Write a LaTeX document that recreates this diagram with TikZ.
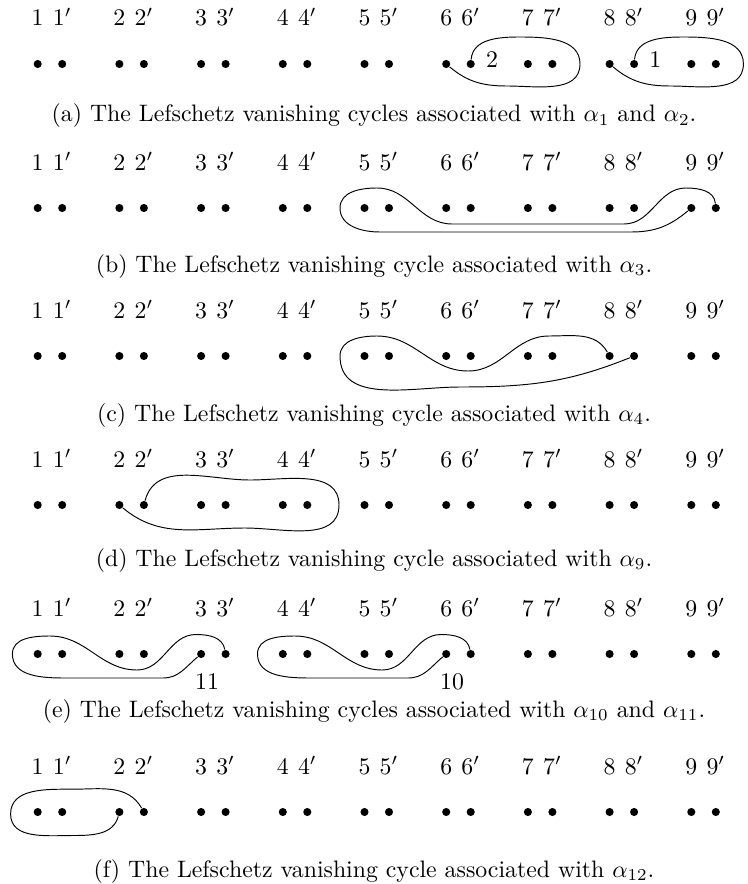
\documentclass[tikz,border=0pt]{standalone}

\tikzset{
  spot/.style={circle, fill, inner sep=0pt, minimum size=3.4pt},
  lbl/.style={anchor=base},
  captxt/.style={anchor=base},
  cyc/.style={line width=0.4pt}
}

% one row of points 1,1',...,9,9' with their labels
\newcommand{\pointrow}[1]{%
  \foreach \i in {1,...,9} {
    \node[spot] (#1\i) at ({37.7+81.7*(\i-1)}, 0) {};
    \node[spot] (#1\i p) at ({62.2+81.7*(\i-1)}, 0) {};
    \node[lbl] (#1l\i) at ({37.7+81.7*(\i-1)}, -38) {$\i$};
    \node[lbl] (#1l\i p) at ({62.2+81.7*(\i-1)}, -38) {$\i'$};
  }%
}

\begin{document}
\begin{tikzpicture}[x=0.42pt, y=-0.42pt]
  \useasboundingbox (0,0) rectangle (748,884);

  % (a) alpha_1 and alpha_2
  \begin{scope}[shift={(0,64)}]
    \pointrow{a}
    \draw[cyc] (a6p) to[out=85,in=180] (520,-27) to[out=0,in=90] (580,0)
      to[out=-90,in=0] (507,22) to[out=180,in=-40] (a6);
    \node (a2lab) at (492,-4) {$2$};
    \begin{scope}[shift={(163.4,0)}]
      \draw[cyc] (a8p) to[out=85,in=180] (520,-27) to[out=0,in=90] (580,0)
        to[out=-90,in=0] (507,22) to[out=180,in=-40] (a8);
      \node (a1lab) at (492,-4) {$1$};
    \end{scope}
    \node[captxt] (capa) at (374,58)
      {(a) The Lefschetz vanishing cycles associated with $\alpha_1$ and $\alpha_2$.};
  \end{scope}

  % (b) alpha_3
  \begin{scope}[shift={(0,208)}]
    \pointrow{b}
    \draw[cyc] (b9p) to[out=95,in=0] (686,-20) to[out=180,in=0] (624,16)
      -- (452,16) to[out=180,in=0] (377,-20) to[out=180,in=90] (340,0)
      to[out=-90,in=180] (380,24) -- (631,24) to[out=0,in=-140] (b9);
    \node[captxt] (capb) at (374,64)
      {(b) The Lefschetz vanishing cycle associated with $\alpha_3$.};
  \end{scope}

  % (c) alpha_4
  \begin{scope}[shift={(0,356)}]
    \pointrow{c}
    \draw[cyc] (c8) to[out=120,in=0] (549,-20) to[out=180,in=0] (468,15)
      to[out=180,in=0] (377,-20) to[out=180,in=90] (340,0)
      to[out=-90,in=180] (460,31) to[out=0,in=-158] (c8p);
    \node[captxt] (capc) at (374,65)
      {(c) The Lefschetz vanishing cycle associated with $\alpha_4$.};
  \end{scope}

  % (d) alpha_9
  \begin{scope}[shift={(0,505)}]
    \pointrow{d}
    \draw[cyc] (d2p) to[out=75,in=180] (250,-25) to[out=0,in=90] (339,0)
      to[out=-90,in=0] (245,23) to[out=180,in=-40] (d2);
    \node[captxt] (capd) at (374,61)
      {(d) The Lefschetz vanishing cycle associated with $\alpha_9$.};
  \end{scope}

  % (e) alpha_10 and alpha_11
  \begin{scope}[shift={(0,654)}]
    \pointrow{e}
    \draw[cyc] (e3p) to[out=100,in=0] (196,-19.5) to[out=180,in=0] (137,16)
      to[out=180,in=0] (50,-18) to[out=180,in=90] (12.4,0)
      to[out=-90,in=180] (66,24) -- (163,24) to[out=0,in=-140] (e3);
    \node (e11lab) at (207,28) {11};
    \begin{scope}[shift={(245.1,0)}]
      \draw[cyc] (e6p) to[out=100,in=0] (196,-19.5) to[out=180,in=0] (137,16)
        to[out=180,in=0] (50,-18) to[out=180,in=90] (12.4,0)
        to[out=-90,in=180] (66,24) -- (163,24) to[out=0,in=-140] (e6);
      \node (e10lab) at (207,28) {10};
    \end{scope}
    \node[captxt] (cape) at (374,63)
      {(e) The Lefschetz vanishing cycles associated with $\alpha_{10}$ and $\alpha_{11}$.};
  \end{scope}

  % (f) alpha_12
  \begin{scope}[shift={(0,812)}]
    \pointrow{f}
    \draw[cyc] (f2p) to[out=120,in=0] (72.6,-22.8) to[out=180,in=90] (10.6,2)
      to[out=-90,in=180] (72.6,23.5) to[out=0,in=-105] (f2);
    \node[captxt] (capf) at (374,65)
      {(f) The Lefschetz vanishing cycle associated with $\alpha_{12}$.};
  \end{scope}
\end{tikzpicture}
\end{document}
